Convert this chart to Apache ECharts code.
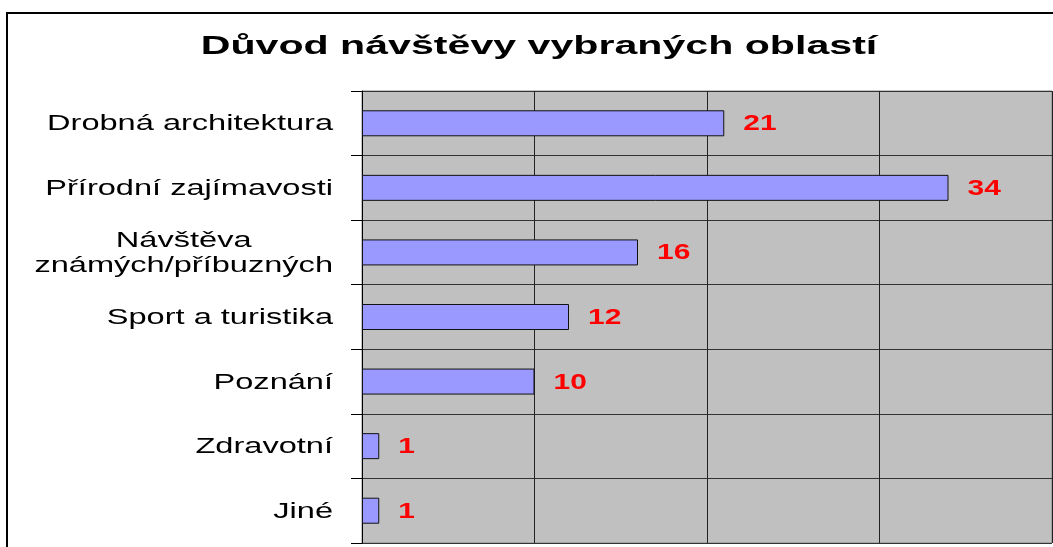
<!DOCTYPE html>
<html>
<head>
<meta charset="utf-8">
<script src="https://cdn.jsdelivr.net/npm/echarts@6/dist/echarts.min.js"></script>
<style>
  html, body { margin: 0; padding: 0; background: #fff; }
  #main { width: 1053px; height: 547px; }
</style>
</head>
<body>
<div id="main"></div>
<script>
// kategorie a hodnoty
const categories = ['Drobná architektura', 'Přírodní zajímavosti', 'Návštěva\nznámých/příbuzných', 'Sport a turistika', 'Poznání', 'Zdravotní', 'Jiné'];
const values = [21, 34, 16, 12, 10, 1, 1];
const xTicks = [0, 10, 20, 30, 40];
const titleText = 'Důvod návštěvy vybraných oblastí';

const FONT = 'Liberation Sans, Arial, sans-serif';
const LABEL_SIZE = 22;
const LABEL_SCALE = 1.48;   // text v originalu je roztazeny do sirky

// mereni sirky textu
const measureCtx = document.createElement('canvas').getContext('2d');
function textWidth(txt, size, weight) {
  measureCtx.font = (weight || 'normal') + ' ' + size + 'px ' + FONT;
  return Math.max.apply(null, txt.split('\n').map(s => measureCtx.measureText(s).width));
}

const chart = echarts.init(document.getElementById('main'));
const option = {
  backgroundColor: '#fff',
  animation: false,
  grid: {
    left: 362,
    top: 91,
    right: 1,
    bottom: 4,
    show: true,
    backgroundColor: '#c0c0c0',
    borderColor: '#888',
    borderWidth: 1
  },
  xAxis: {
    type: 'value',
    min: xTicks[0],
    max: xTicks[xTicks.length - 1],
    interval: 10,
    axisLabel: { show: false },
    axisLine: { show: false },
    axisTick: { show: false },
    splitLine: { show: true, lineStyle: { color: '#222', width: 1 } }
  },
  yAxis: {
    type: 'category',
    data: categories,
    inverse: true,
    axisLine: { show: true, lineStyle: { color: '#000', width: 1 } },
    axisTick: { show: true, length: 11, lineStyle: { color: '#000' } },
    splitLine: { show: true, lineStyle: { color: '#333', width: 1 } },
    axisLabel: { show: false }
  },
  series: [{
    type: 'bar',
    data: values,
    barWidth: 26,
    itemStyle: { color: '#9999ff', borderColor: '#111', borderWidth: 1 }
  }]
};
chart.setOption(option);

// popisky - roztazene texty pres graphic, pozice z os grafu
const graphics = [];
graphics.push({
  type: 'rect',
  shape: { x: 7, y: 13, width: 1060, height: 560 },
  style: { fill: 'none', stroke: '#000', lineWidth: 2 },
  z: -1
});
graphics.push({
  type: 'text',
  x: 539,
  y: 47,
  scaleX: 1.645,
  style: {
    text: titleText,
    fontFamily: FONT,
    fontWeight: 'bold',
    fontSize: 25,
    fill: '#000',
    textAlign: 'center',
    textVerticalAlign: 'middle'
  }
});
categories.forEach((cat, i) => {
  const cy = chart.convertToPixel({ yAxisIndex: 0 }, i);
  const w = textWidth(cat, LABEL_SIZE) * LABEL_SCALE;
  graphics.push({
    type: 'text',
    x: 333 - w / 2,
    y: cy + 1,
    scaleX: LABEL_SCALE,
    style: {
      text: cat,
      fontFamily: FONT,
      fontSize: LABEL_SIZE,
      lineHeight: 25,
      fill: '#000',
      textAlign: 'center',
      textVerticalAlign: 'middle'
    }
  });
  const p = chart.convertToPixel({ gridIndex: 0 }, [values[i], i]);
  graphics.push({
    type: 'text',
    x: p[0] + 19,
    y: p[1] + 1,
    scaleX: 1.36,
    style: {
      text: String(values[i]),
      fontFamily: FONT,
      fontWeight: 'bold',
      fontSize: LABEL_SIZE,
      fill: '#ff0000',
      textAlign: 'left',
      textVerticalAlign: 'middle'
    }
  });
});
chart.setOption({ graphic: graphics });
</script>
</body>
</html>
